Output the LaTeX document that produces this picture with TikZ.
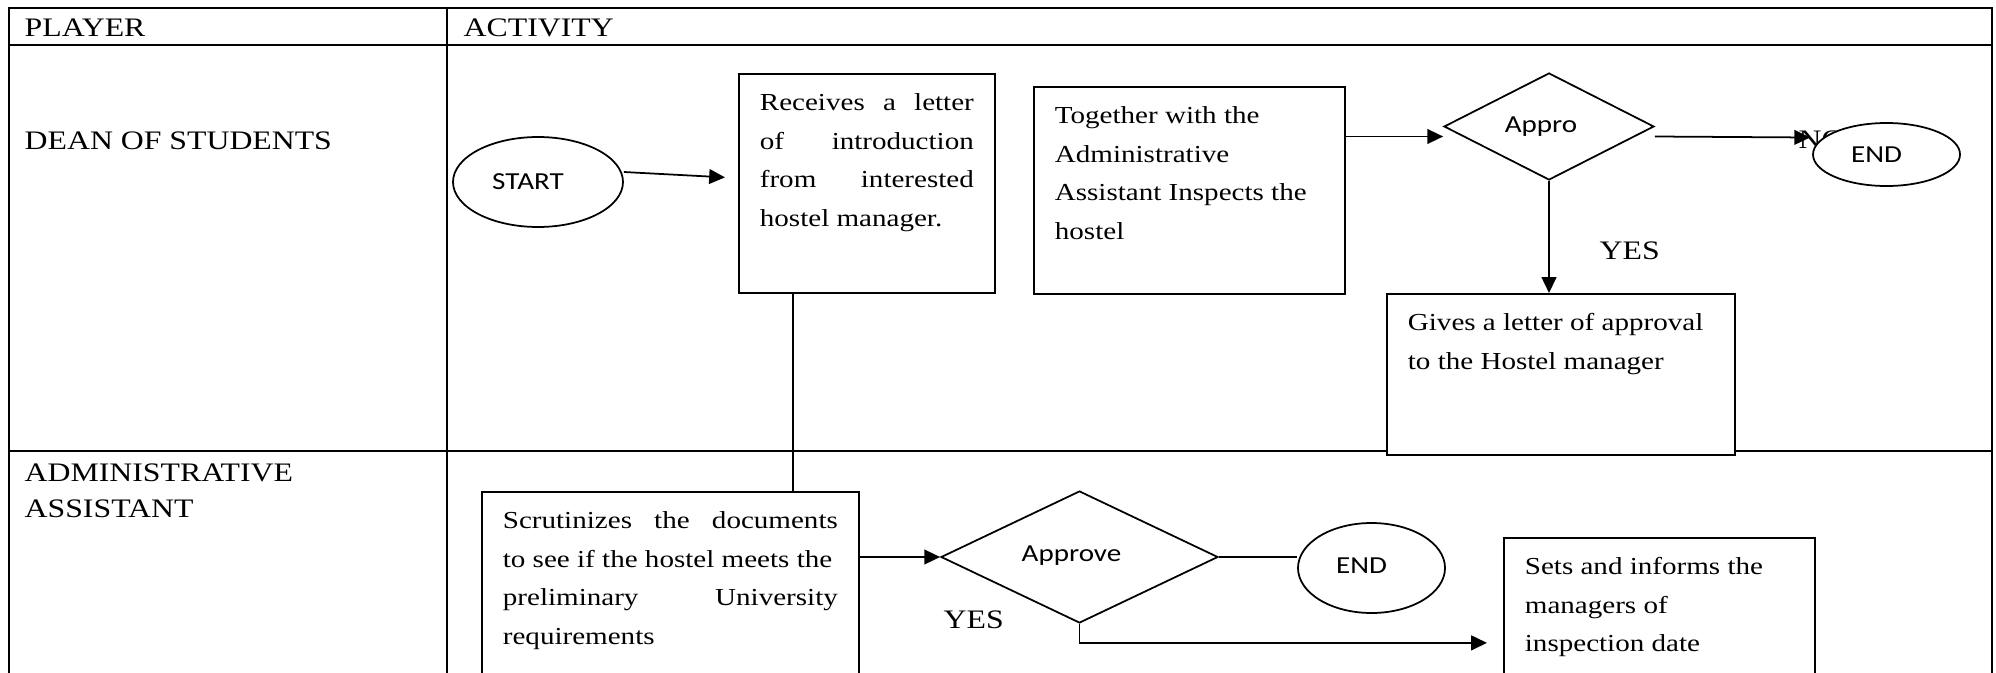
\documentclass[tikz,border=0pt]{standalone}
\usepackage{fontspec}
\setmainfont{Liberation Serif}[FakeStretch=1.19]
\newfontfamily\calfont{Carlito}[FakeStretch=1.19]
\usetikzlibrary{arrows.meta, shapes.geometric, calc}

\newcommand{\labfont}{\fontsize{7.6pt}{10.16pt}\selectfont}
\newcommand{\boxfont}{\fontsize{6.95pt}{10.95pt}\selectfont}
\newcommand{\shpfont}{\calfont\fontsize{6.95pt}{8.4pt}\selectfont}
% text of a box: width, height, lines
\newcommand{\boxtext}[3]{\parbox[c][#2][t]{#1}{\boxfont\rule{0pt}{0.37cm}#3}}
\newcommand{\just}[1]{\makebox[\linewidth][s]{#1}}

\tikzset{
  grid/.style={line width=0.8pt},
  box/.style={draw, line width=0.5pt, fill=white, anchor=north west, inner xsep=0.21cm, inner ysep=0pt},
  oval/.style={draw, ellipse, line width=0.5pt, fill=white, inner sep=0pt, font=\shpfont,
    execute at begin node={\hspace{-0.2cm}}},
  choice/.style={draw, diamond, line width=0.5pt, fill=white, inner sep=0pt, font=\shpfont,
    execute at begin node={\hspace{-0.16cm}}},
  lab/.style={anchor=base west, inner sep=0pt, font=\labfont},
  arr/.style={-{Triangle[length=4.5pt,width=4.2pt]}, line width=0.5pt},
  link/.style={line width=0.5pt}
}

\begin{document}
\begin{tikzpicture}[x=0.1mm, y=-0.1mm]
\clip (0,0) rectangle (1996,672);
% table
\draw[grid] (9,8) rectangle (1992,720);
\draw[grid] (9,45) -- (1992,45);
\draw[grid] (9,451) -- (1992,451);
\draw[grid] (447,8) -- (447,720);
\node[lab] (player) at (24,36) {PLAYER};
\node[lab] (activity) at (463,36) {ACTIVITY};
\node[lab] (dean) at (24,149) {DEAN OF STUDENTS};
\node[lab, align=left] (admin) at (24,517) {ADMINISTRATIVE\\ASSISTANT};

% dean of students
\node[oval, minimum width=1.7cm, minimum height=0.9cm] (start) at (538,182) {START};
\node[box] (recv) at (738,73) {\boxtext{2.14cm}{2.19cm}{\just{Receives a letter}\\
  \just{of introduction}\\ \just{from interested}\\ hostel manager.}};
\node[box] (inspect) at (1033,86) {\boxtext{2.69cm}{2.07cm}{Together with the\\
  Administrative\\ Assistant Inspects the\\ hostel}};
\node[choice, minimum width=2.1cm, minimum height=1.07cm] (appro) at (1549,126.5) {Appro};
\node[lab] (no) at (1798,148) {NO};
\node[oval, minimum width=1.47cm, minimum height=0.63cm] (end1) at (1886.5,154.5) {END};
\node[lab] (yes1) at (1599,259) {YES};
\node[box] (grant) at (1386,293) {\boxtext{3.06cm}{1.61cm}{Gives a letter of approval\\
  to the Hostel manager}};

% administrative assistant
\node[box] (scrut) at (481,491) {\boxtext{3.35cm}{2.2cm}{\just{Scrutinizes the documents}\\
  to see if the hostel meets the\\ \just{preliminary University}\\ requirements}};
\node[choice, minimum width=2.77cm, minimum height=1.32cm] (approve) at (1079.5,557) {\raisebox{0.06cm}{Approve}};
\node[oval, minimum width=1.47cm, minimum height=0.9cm] (end2) at (1371.5,568) {\raisebox{0.05cm}{END}};
\node[lab] (yes2) at (943,628) {YES};
\node[box] (sets) at (1503,537) {\boxtext{2.69cm}{1.7cm}{Sets and informs the\\
  managers of\\ inspection date}};

% connectors
\draw[arr] ($(start.east)+(0,-10)$) -- ($(recv.west)+(-13,-6)$);
\draw[link] (recv.south west) ++(55,0) coordinate (drop) -- (drop |- scrut.north);
\draw[arr] ($(inspect.east |- appro.west)+(0,10)$) -- ($(appro.west)+(0,10)$);
\draw[arr] ($(appro.east)+(0,10)$) -- ($(end1.west)+(-2,-17)$);
\draw[arr] (appro.south) -- (appro.south |- grant.north);
\draw[arr] (scrut.east |- approve.west) -- (approve.west);
\draw[link] (approve.east) -- (end2.west |- approve.east);
\draw[arr] (approve.south) -- ++(0,19) coordinate (bend) -- ($(bend -| sets.west)+(-16,0)$);
\end{tikzpicture}
\end{document}
